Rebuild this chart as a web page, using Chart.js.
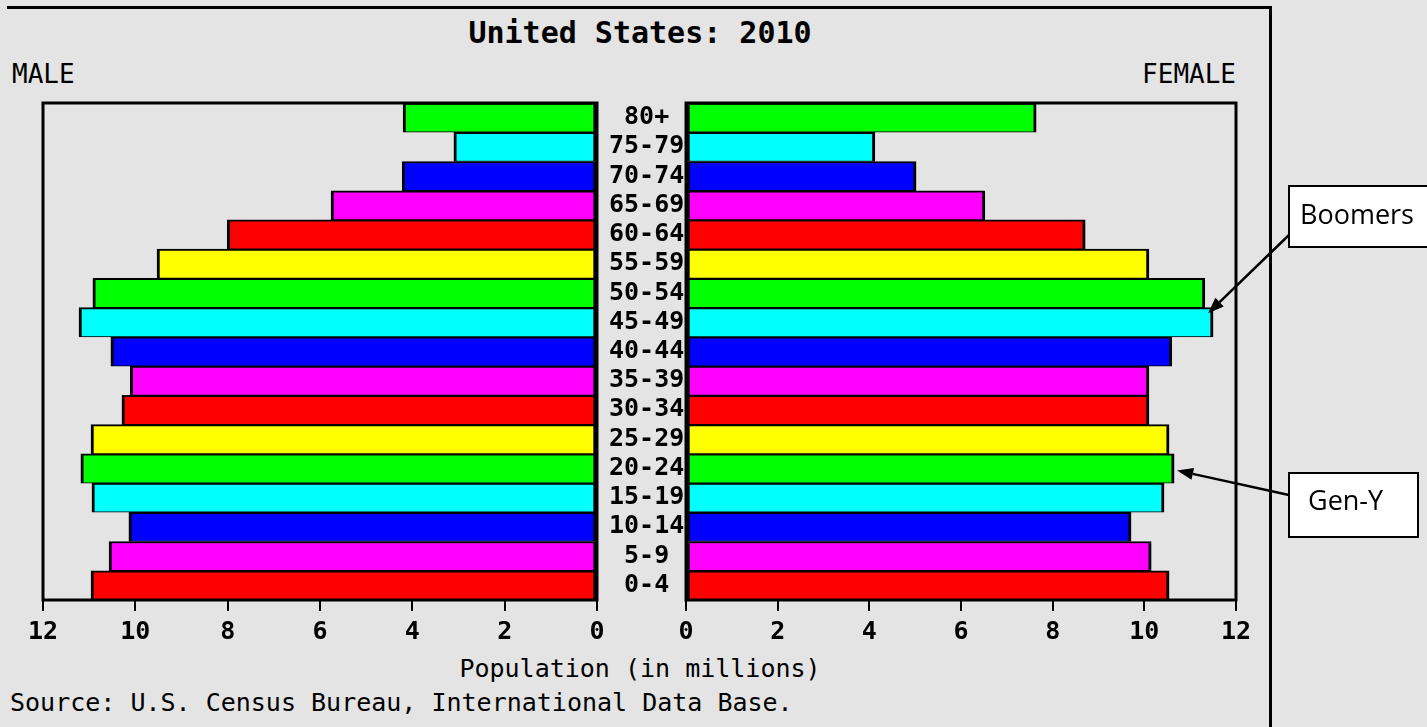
<!DOCTYPE html>
<html lang="en">
<head>
<meta charset="UTF-8">
<title>United States: 2010</title>
<script src="https://cdn.jsdelivr.net/npm/chart.js"></script>
<style>
  html, body { margin: 0; padding: 0; }
  body { width: 1427px; height: 727px; background: #e4e4e4; position: relative; overflow: hidden; }
  canvas { position: absolute; left: 0; top: 0; }
  .txt { position: absolute; font-family: "DejaVu Sans Mono", monospace; line-height: 1; color: #000; white-space: nowrap; }
  #frame { position: absolute; left: 7px; top: 6px; width: 1262px; height: 740px; border-top: 3px solid #000; border-right: 3px solid #000; }
</style>
</head>
<body>
<div id="frame"></div>
<div class="txt" style="left:0; width:1280px; text-align:center; top:18px; font-size:30px; font-weight:bold;">United States: 2010</div>
<div class="txt" style="left:12px; top:61px; font-size:26px;">MALE</div>
<div class="txt" style="right:191px; top:61px; font-size:26px;">FEMALE</div>
<div class="txt" style="left:0; width:1280px; text-align:center; top:656px; font-size:25px;">Population (in millions)</div>
<div class="txt" style="left:10px; top:690px; font-size:25px;">Source: U.S. Census Bureau, International Data Base.</div>

<canvas id="maleChart" width="1427" height="727"></canvas>
<canvas id="femaleChart" width="1427" height="727"></canvas>

<script>
// age groups, youngest first
const ageGroups = ['0-4', '5-9', '10-14', '15-19', '20-24', '25-29', '30-34', '35-39', '40-44',
                   '45-49', '50-54', '55-59', '60-64', '65-69', '70-74', '75-79', '80+'];
// population in millions
const male   = [10.96, 10.57, 10.14, 10.94, 11.18, 10.96, 10.29, 10.11, 10.53, 11.22, 10.92, 9.53, 8.01, 5.76, 4.22, 3.10, 4.20];
const female = [10.54, 10.15, 9.71, 10.43, 10.65, 10.54, 10.10, 10.10, 10.60, 11.50, 11.32, 10.10, 8.71, 6.52, 5.02, 4.12, 7.64];
const xTicks = [0, 2, 4, 6, 8, 10, 12];

const palette = ['#ff0000', '#ff00ff', '#0000ff', '#00ffff', '#00ff00', '#ffff00'];
const barColors = ageGroups.map((_, i) => palette[i % palette.length]);

const tickFont = { family: 'DejaVu Sans Mono', size: 25, weight: 'bold' };

// black box round each panel
const framePlugin = {
    id: 'frame',
    afterDatasetsDraw(chart) {
        const a = chart.chartArea;
        const ctx = chart.ctx;
        ctx.save();
        ctx.strokeStyle = '#000';
        ctx.lineWidth = 3;
        ctx.strokeRect(a.left, a.top, a.right - a.left, a.bottom - a.top);
        ctx.restore();
    }
};

function arrow(ctx, x1, y1, x2, y2) {
    const ang = Math.atan2(y2 - y1, x2 - x1);
    const len = 16, half = 6;
    const bx = x2 - len * Math.cos(ang), by = y2 - len * Math.sin(ang);
    ctx.beginPath();
    ctx.moveTo(x1, y1);
    ctx.lineTo(bx, by);
    ctx.stroke();
    ctx.beginPath();
    ctx.moveTo(x2, y2);
    ctx.lineTo(bx + half * Math.sin(ang), by - half * Math.cos(ang));
    ctx.lineTo(bx - half * Math.sin(ang), by + half * Math.cos(ang));
    ctx.closePath();
    ctx.fill();
}

// Boomers / Gen-Y call-outs, arrows aimed at the bars
const calloutPlugin = {
    id: 'callouts',
    afterDraw(chart) {
        const ctx = chart.ctx;
        const xs = chart.scales.x, ys = chart.scales.y;
        ctx.save();
        ctx.fillStyle = '#fff';
        ctx.strokeStyle = '#000';
        ctx.lineWidth = 2;
        ctx.fillRect(1289, 186, 150, 61);
        ctx.strokeRect(1289, 186, 150, 61);
        ctx.fillRect(1289, 473, 129, 64);
        ctx.strokeRect(1289, 473, 129, 64);
        ctx.fillStyle = '#000';
        ctx.font = '27px "Open Sans"';
        ctx.textBaseline = 'alphabetic';
        ctx.fillText('Boomers', 1300, 224);
        ctx.fillText('Gen-Y', 1308, 510);

        ctx.lineWidth = 2.5;
        const iB = ageGroups.indexOf('45-49');
        arrow(ctx, 1289, 235, xs.getPixelForValue(female[iB]) - 5, ys.getPixelForValue(iB) - 9);
        const iG = ageGroups.indexOf('20-24');
        arrow(ctx, 1289, 495, xs.getPixelForValue(female[iG]) + 3, ys.getPixelForValue(iG) + 2);
        ctx.restore();
    }
};

function xScale(reverse) {
    return {
        type: 'linear',
        min: 0,
        max: 12,
        reverse: reverse,
        afterBuildTicks: s => { s.ticks = xTicks.map(v => ({ value: v })); },
        afterFit: s => { s.height = 40; },
        grid: { drawOnChartArea: false, drawTicks: true, tickLength: 11, color: '#000', lineWidth: 2 },
        border: { display: false },
        ticks: { font: tickFont, color: '#000', padding: 6, maxRotation: 0, autoSkip: false }
    };
}

function barDataset(values) {
    return {
        data: values,
        backgroundColor: barColors,
        borderColor: '#000',
        borderWidth: { top: 2, bottom: 1, left: 3, right: 3 },
        borderSkipped: false,
        categoryPercentage: 1,
        barPercentage: 1
    };
}

const common = {
    indexAxis: 'y',
    responsive: false,
    animation: false,
    events: [],
    plugins: { legend: { display: false }, tooltip: { enabled: false } }
};

new Chart(document.getElementById('maleChart'), {
    type: 'bar',
    data: { labels: ageGroups, datasets: [barDataset(male)] },
    options: {
        ...common,
        layout: { padding: { left: 43, right: 741, top: 103, bottom: 87 } },
        scales: {
            x: xScale(true),
            y: {
                position: 'right',
                reverse: true,
                afterFit: s => { s.width = 89; },
                grid: { display: false },
                border: { display: false },
                ticks: { font: tickFont, color: '#000', padding: 4, crossAlign: 'center', autoSkip: false }
            }
        }
    },
    plugins: [framePlugin]
});

new Chart(document.getElementById('femaleChart'), {
    type: 'bar',
    data: { labels: ageGroups, datasets: [barDataset(female)] },
    options: {
        ...common,
        layout: { padding: { left: 686, right: 191, top: 103, bottom: 87 } },
        scales: {
            x: xScale(false),
            y: { display: false, reverse: true }
        }
    },
    plugins: [framePlugin, calloutPlugin]
});
</script>
</body>
</html>
